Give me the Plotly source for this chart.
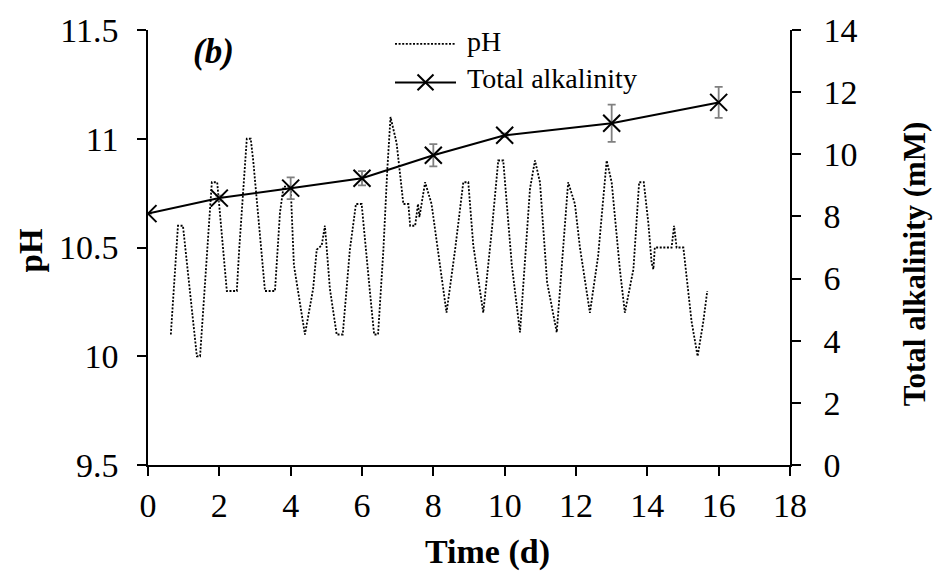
import plotly.graph_objects as go

# pH time series (dotted line)
ph_day = [0.64, 0.84, 0.98, 1.37, 1.46, 1.79, 1.94, 2.21, 2.49, 2.56, 2.77, 2.88, 2.95, 3.28, 3.56,
          3.70, 3.80, 4.00, 4.09, 4.40, 4.63, 4.73, 4.87, 4.96, 5.10, 5.29, 5.46, 5.66, 5.83, 5.99,
          6.22, 6.34, 6.45, 6.60, 6.71, 6.80, 6.97, 7.06, 7.16, 7.30, 7.35, 7.49, 7.57, 7.61, 7.77,
          7.95, 8.14, 8.37, 8.61, 8.84, 8.98, 9.12, 9.40, 9.64, 9.82, 9.96, 10.20, 10.43, 10.71,
          10.85, 10.99, 11.19, 11.46, 11.78, 11.97, 12.11, 12.39, 12.62, 12.86, 13.00, 13.23, 13.37,
          13.61, 13.70, 13.77, 13.90, 14.03, 14.12, 14.17, 14.21, 14.68, 14.75, 14.82, 15.01, 15.10,
          15.24, 15.41, 15.57, 15.68]
ph_val = [10.10, 10.60, 10.60, 10.00, 10.00, 10.80, 10.80, 10.30, 10.30, 10.50, 11.00, 11.00, 10.90, 10.30, 10.30,
          10.66, 10.78, 10.78, 10.42, 10.10, 10.31, 10.49, 10.51, 10.60, 10.31, 10.10, 10.10, 10.49, 10.70, 10.70,
          10.30, 10.10, 10.10, 10.49, 10.86, 11.10, 10.98, 10.86, 10.70, 10.70, 10.60, 10.60, 10.70, 10.64, 10.80,
          10.70, 10.48, 10.20, 10.49, 10.80, 10.80, 10.51, 10.20, 10.58, 10.90, 10.90, 10.42, 10.11, 10.77,
          10.90, 10.80, 10.34, 10.11, 10.80, 10.70, 10.50, 10.20, 10.46, 10.90, 10.80, 10.40, 10.20,
          10.40, 10.61, 10.80, 10.80, 10.61, 10.43, 10.40, 10.50, 10.50, 10.60, 10.50, 10.50, 10.36,
          10.16, 10.00, 10.16, 10.30]

# Total alkalinity (mM) with error bars
alk_day = [0, 2, 4, 6, 8, 10, 13, 16]
alk_val = [8.09, 8.59, 8.91, 9.23, 9.97, 10.61, 11.00, 11.67]
alk_err = [0.0, 0.08, 0.35, 0.23, 0.36, 0.06, 0.60, 0.50]

x_ticks = [0, 2, 4, 6, 8, 10, 12, 14, 16, 18]
ph_ticks = [9.5, 10, 10.5, 11, 11.5]
ph_tick_text = ["9.5", "10", "10.5", "11", "11.5"]
alk_ticks = [0, 2, 4, 6, 8, 10, 12, 14]

FONT = "Liberation Serif, Times New Roman, serif"
L, R, T, B = 148, 790, 25, 465  # plot area in pixels

fig = go.Figure()
fig.add_trace(go.Scatter(
    x=ph_day, y=ph_val, mode="lines", name="pH",
    line=dict(color="black", width=1.8, dash="2px,1.6px"),
    yaxis="y", showlegend=False))
fig.add_trace(go.Scatter(
    x=alk_day, y=alk_val, mode="lines+markers", name="Total alkalinity",
    line=dict(color="black", width=2),
    marker=dict(symbol="x-thin", size=17, color="black", line=dict(width=2, color="black")),
    error_y=dict(type="data", array=alk_err, visible=True, color="#808080", thickness=1.8, width=4),
    yaxis="y2", showlegend=False))

axis_common = dict(showgrid=False, zeroline=False, showline=True, linecolor="black", linewidth=1.5,
                   ticks="outside", ticklen=9, tickwidth=1.5, tickcolor="black",
                   tickfont=dict(family=FONT, size=34, color="black"))

fig.update_layout(
    width=937, height=576,
    margin=dict(l=L, r=937 - R, t=T, b=576 - B),
    paper_bgcolor="white", plot_bgcolor="white",
    xaxis=dict(range=[0, 18], tickvals=x_ticks, **axis_common),
    yaxis=dict(range=[9.5, 11.5], tickvals=ph_ticks, ticktext=ph_tick_text, ticklabelstandoff=12, **axis_common),
    yaxis2=dict(range=[0, 14], tickvals=alk_ticks, overlaying="y", side="right", ticklabelstandoff=16, **axis_common),
    font=dict(family=FONT, color="black"),
)

def px_x(p):
    return (p - L) / (R - L)

def px_y(p):
    return (B - p) / (B - T)

# axis titles
fig.add_annotation(text="<b>Time (d)</b>", xref="paper", yref="paper", x=px_x(488), y=px_y(553),
                   xanchor="center", yanchor="middle", showarrow=False,
                   font=dict(family=FONT, size=34, color="black"))
fig.add_annotation(text="<b>pH</b>", xref="paper", yref="paper", x=px_x(31), y=px_y(248),
                   xanchor="center", yanchor="middle", showarrow=False, textangle=-90,
                   font=dict(family=FONT, size=33, color="black"))
fig.add_annotation(text="<b>Total alkalinity (mM)</b>", xref="paper", yref="paper", x=px_x(914), y=px_y(262),
                   xanchor="center", yanchor="middle", showarrow=False, textangle=-90,
                   font=dict(family=FONT, size=31, color="black"))

# panel label
fig.add_annotation(text="<b><i>(b)</i></b>", xref="paper", yref="paper", x=px_x(191), y=px_y(47),
                   xanchor="left", yanchor="middle", showarrow=False,
                   font=dict(family=FONT, size=35, color="black"))

# legend drawn by hand
leg_x0, leg_x1, leg_text = 395, 456, 465
row1, row2 = 39, 78
fig.add_shape(type="line", xref="paper", yref="paper", x0=px_x(leg_x0), x1=px_x(leg_x1),
              y0=px_y(row1), y1=px_y(row1), line=dict(color="black", width=1.8, dash="2px,1.6px"))
fig.add_annotation(text="pH", xref="paper", yref="paper", x=px_x(leg_text), y=px_y(row1 - 2),
                   xanchor="left", yanchor="middle", showarrow=False,
                   font=dict(family=FONT, size=28, color="black"))
fig.add_shape(type="line", xref="paper", yref="paper", x0=px_x(leg_x0), x1=px_x(leg_x1),
              y0=px_y(row2), y1=px_y(row2), line=dict(color="black", width=2))
cx, h = (leg_x0 + leg_x1) / 2, 8
fig.add_shape(type="path", xref="paper", yref="paper",
              path=(f"M{px_x(cx-h)},{px_y(row2-h)} L{px_x(cx+h)},{px_y(row2+h)} "
                    f"M{px_x(cx-h)},{px_y(row2+h)} L{px_x(cx+h)},{px_y(row2-h)}"),
              line=dict(color="black", width=2))
fig.add_annotation(text="Total alkalinity", xref="paper", yref="paper", x=px_x(leg_text), y=px_y(row2 - 4),
                   xanchor="left", yanchor="middle", showarrow=False,
                   font=dict(family=FONT, size=28, color="black"))

fig.write_html("out.html")
